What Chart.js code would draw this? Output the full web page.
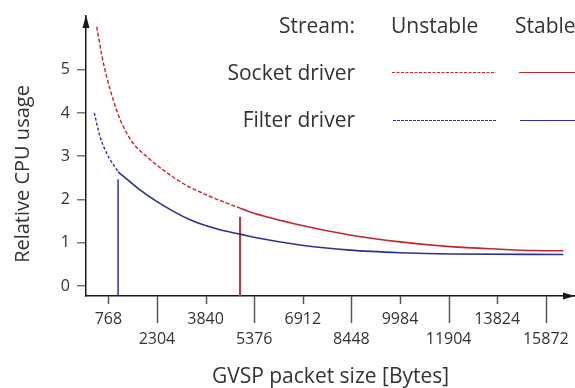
<!DOCTYPE html>
<html>
<head>
<meta charset="utf-8">
<script src="https://cdn.jsdelivr.net/npm/chart.js@4.4.1/dist/chart.umd.min.js"></script>
<style>
html, body { margin: 0; padding: 0; background: #fff; }
#wrap { width: 575px; height: 388px; }
</style>
</head>
<body>
<div id="wrap"><canvas id="myChart"></canvas></div>
<script>
// x values are tick slots (0 = 768, 1 = 2304 ...) because the axis is evenly spaced
var tickLabels = ['768', '2304', '3840', '5376', '6912', '8448', '9984', '11904', '13824', '15872'];
var yTickValues = [0, 1, 2, 3, 4, 5];

var socketUnstableX = [-0.24, -0.10, 0.04, 0.17, 0.31, 0.51, 0.79, 1.13, 1.54, 2.03, 2.50, 2.71];
var socketUnstableY = [5.99, 5.14, 4.53, 4.06, 3.68, 3.30, 2.99, 2.68, 2.37, 2.10, 1.89, 1.80];
var socketStableX = [2.71, 2.92, 3.94, 4.97, 6.00, 7.03, 8.06, 8.74, 9.36];
var socketStableY = [1.80, 1.71, 1.41, 1.18, 1.02, 0.91, 0.85, 0.82, 0.815];

var filterUnstableX = [-0.29, -0.17, -0.03, 0.2];
var filterUnstableY = [4.00, 3.45, 3.06, 2.64];
var filterStableX = [0.2, 0.65, 1.0, 1.68, 2.26, 2.71, 3.02, 3.94, 4.97, 6.00, 7.03, 9.36];
var filterStableY = [2.64, 2.22, 1.95, 1.53, 1.31, 1.20, 1.12, 0.95, 0.83, 0.77, 0.74, 0.73];

// start of stable stream markers
var filterMarkX = [0.2, 0.2];
var filterMarkY = [-0.23, 2.47];
var socketMarkX = [2.71, 2.71];
var socketMarkY = [-0.23, 1.60];

var legendRows = ['Socket driver', 'Filter driver'];
var streamLabels = ['Stream:', 'Unstable', 'Stable'];
var yTitle = 'Relative CPU usage';

var RED = '#c1272d';
var BLUE = '#2e3192';
var FONT = "'Open Sans', sans-serif";

function pts(xs, ys) {
    return xs.map(function (x, i) { return { x: x, y: ys[i] }; });
}

var extras = {
    id: 'extras',
    afterDraw: function (chart) {
        var ctx = chart.ctx;
        var xs = chart.scales.x;
        var area = chart.chartArea;
        ctx.save();

        // x tick marks, long ones for the lower label row
        ctx.strokeStyle = '#555';
        ctx.lineWidth = 1.5;
        tickLabels.forEach(function (lbl, i) {
            var px = Math.round(xs.getPixelForValue(i)) + 0.5;
            ctx.beginPath();
            ctx.moveTo(px, area.bottom);
            ctx.lineTo(px, area.bottom + (i % 2 ? 27 : 8));
            ctx.stroke();
        });

        // arrow heads
        ctx.fillStyle = '#1a1a1a';
        ctx.beginPath();
        ctx.moveTo(area.left, area.top - 1);
        ctx.lineTo(area.left - 3.5, area.top + 12);
        ctx.lineTo(area.left + 3.5, area.top + 12);
        ctx.closePath();
        ctx.fill();
        ctx.beginPath();
        ctx.moveTo(area.right, area.bottom);
        ctx.lineTo(area.right - 12, area.bottom - 3.5);
        ctx.lineTo(area.right - 12, area.bottom + 3.5);
        ctx.closePath();
        ctx.fill();

        // y title (sits lower than the axis centre)
        ctx.fillStyle = '#333';
        ctx.save();
        ctx.translate(23, 174);
        ctx.rotate(-Math.PI / 2);
        ctx.font = '20px ' + FONT;
        ctx.textAlign = 'center';
        ctx.textBaseline = 'middle';
        ctx.fillText(yTitle, 0, 0);
        ctx.restore();

        // legend
        ctx.font = '21px ' + FONT;
        ctx.textBaseline = 'alphabetic';
        ctx.textAlign = 'right';
        ctx.fillText(streamLabels[0], 355, 33);
        ctx.fillText(legendRows[0], 355, 80);
        ctx.fillText(legendRows[1], 355, 127);
        ctx.textAlign = 'left';
        ctx.fillText(streamLabels[1], 391, 33);
        ctx.fillText(streamLabels[2], 515, 33);

        ctx.lineWidth = 1.2;
        ctx.strokeStyle = RED;
        ctx.setLineDash([3, 1.5]);
        ctx.beginPath(); ctx.moveTo(392, 72.5); ctx.lineTo(496, 72.5); ctx.stroke();
        ctx.setLineDash([]);
        ctx.beginPath(); ctx.moveTo(519, 72.5); ctx.lineTo(575, 72.5); ctx.stroke();
        ctx.strokeStyle = BLUE;
        ctx.setLineDash([3, 1]);
        ctx.beginPath(); ctx.moveTo(393, 120.5); ctx.lineTo(497, 120.5); ctx.stroke();
        ctx.setLineDash([]);
        ctx.beginPath(); ctx.moveTo(520, 120.5); ctx.lineTo(575, 120.5); ctx.stroke();

        ctx.restore();
    }
};

var ctx = document.getElementById('myChart');
var myChart = new Chart(ctx, {
    type: 'line',
    data: {
        datasets: [
            { data: pts(socketUnstableX, socketUnstableY), borderColor: RED, borderWidth: 1.4, borderDash: [4, 2], cubicInterpolationMode: 'monotone' },
            { data: pts(socketStableX, socketStableY), borderColor: RED, borderWidth: 1.6, cubicInterpolationMode: 'monotone' },
            { data: pts(filterUnstableX, filterUnstableY), borderColor: BLUE, borderWidth: 1.4, borderDash: [3, 2], cubicInterpolationMode: 'monotone' },
            { data: pts(filterStableX, filterStableY), borderColor: BLUE, borderWidth: 1.6, cubicInterpolationMode: 'monotone' },
            { data: pts(filterMarkX, filterMarkY), borderColor: BLUE, borderWidth: 1.5 },
            { data: pts(socketMarkX, socketMarkY), borderColor: '#9b4a4f', borderWidth: 2.2 }
        ]
    },
    options: {
        responsive: true,
        maintainAspectRatio: false,
        animation: false,
        events: [],
        layout: { padding: { top: 16, right: 0, bottom: 0, left: 0 } },
        elements: { point: { radius: 0 }, line: { fill: false } },
        plugins: { legend: { display: false }, tooltip: { enabled: false } },
        scales: {
            x: {
                type: 'linear',
                min: -0.46,
                max: 9.6,
                afterBuildTicks: function (scale) {
                    scale.ticks = tickLabels.map(function (l, i) { return { value: i }; });
                },
                afterFit: function (scale) {
                    scale.height = 92;
                    scale.paddingLeft = 0;
                    scale.paddingRight = 0;
                },
                grid: { display: false, drawTicks: false },
                border: { display: true, color: '#1a1a1a', width: 1.5 },
                ticks: {
                    autoSkip: false,
                    maxRotation: 0,
                    padding: 13,
                    color: '#333',
                    font: { family: FONT, size: 16, lineHeight: 1.25 },
                    callback: function (value) {
                        var lbl = tickLabels[value];
                        return value % 2 ? ['', lbl] : lbl;
                    }
                },
                title: {
                    display: true,
                    text: 'GVSP packet size [Bytes]',
                    color: '#333',
                    font: { family: FONT, size: 21, lineHeight: 1 },
                    padding: { top: 0, bottom: 0 }
                }
            },
            y: {
                min: -0.23,
                max: 6.24,
                afterBuildTicks: function (scale) {
                    scale.ticks = yTickValues.map(function (v) { return { value: v }; });
                },
                afterFit: function (scale) {
                    scale.width = 86;
                    scale.paddingTop = 0;
                    scale.paddingBottom = 0;
                },
                grid: { display: true, drawOnChartArea: false, drawTicks: true, tickLength: 9, color: '#777', lineWidth: 1.5 },
                border: { display: true, color: '#1a1a1a', width: 1.5 },
                ticks: {
                    padding: 7,
                    color: '#333',
                    font: { family: FONT, size: 16 }
                }
            }
        }
    },
    plugins: [extras]
});
</script>
</body>
</html>
